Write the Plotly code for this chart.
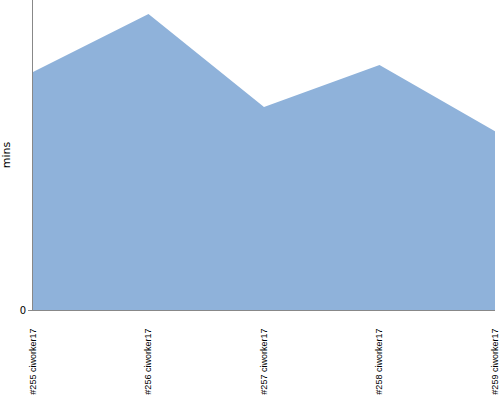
import plotly.graph_objects as go

categories = ["#255 ciworker17", "#256 ciworker17", "#257 ciworker17", "#258 ciworker17", "#259 ciworker17"]
durations = [76.8, 95.5, 65.5, 79.0, 57.7]
y_max = 100

fig = go.Figure()
fig.add_trace(go.Scatter(
    x=categories, y=durations, mode="lines", fill="tozeroy",
    fillcolor="#8fb2da", line=dict(width=0, color="#8fb2da"),
    hoverinfo="x+y",
))
fig.update_layout(
    width=500, height=400,
    margin=dict(l=33, r=5, t=0, b=90, autoexpand=False),
    paper_bgcolor="white", plot_bgcolor="white",
    showlegend=False,
    font=dict(family="Liberation Sans Narrow, Liberation Sans, DejaVu Sans", color="#000"),
)
fig.update_xaxes(
    type="category", range=[0, len(categories) - 1],
    showgrid=False, zeroline=False, automargin=False,
    showline=True, linecolor="#888", linewidth=1,
    ticks="", tickangle=-90, tickfont=dict(size=9),
    ticklabelstandoff=14, ticklabeloverflow="allow",
)
fig.update_yaxes(
    range=[0, y_max], tickvals=[0], ticktext=["0"],
    showgrid=False, zeroline=False, automargin=False,
    showline=True, linecolor="#888", linewidth=1,
    ticks="outside", ticklen=4, tickcolor="#888",
    tickfont=dict(size=10, family="DejaVu Sans"),
    title=dict(text="mins", font=dict(size=11, family="DejaVu Sans"), standoff=10),
)
fig.write_html(
    "out.html",
    config={"displayModeBar": False},
    post_script="document.body.style.margin='0';document.body.style.overflow='hidden';",
)
